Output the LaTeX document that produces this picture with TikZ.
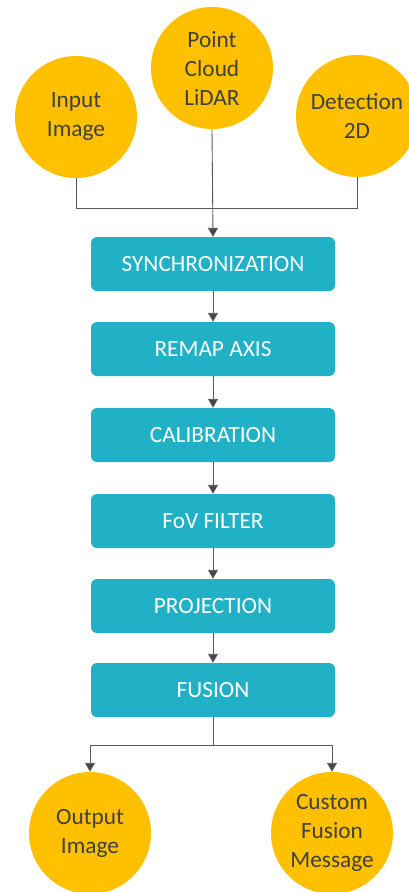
\documentclass[tikz,border=0pt]{standalone}
\usepackage{fontspec}
\setmainfont{Carlito}
\usetikzlibrary{arrows.meta}
\definecolor{gold}{HTML}{FFC000}
\definecolor{teal1}{HTML}{21B1C6}
\definecolor{txtgray}{HTML}{404040}
\definecolor{linegray}{HTML}{595959}
\begin{document}
\begin{tikzpicture}[x=1pt,y=-1pt,
  circ/.style={circle,fill=gold,minimum size=122pt,inner sep=0pt,align=center,text=txtgray,font=\fontsize{23.3}{29}\selectfont},
  stepbox/.style={rectangle,rounded corners=6pt,fill=teal1,minimum width=244pt,minimum height=54pt,inner sep=0pt,text=white,font=\fontsize{23.3}{26}\selectfont},
  conn/.style={draw=linegray,line width=0.9pt},
  arr/.style={conn,-{Triangle[width=10pt,length=9pt,fill=linegray!80!black]}}]
\useasboundingbox (0,0) rectangle (409,892);
\begin{scope}
\clip (0,0) rectangle (409,892);
\node[circ] (in) at (76,117) {Input\\Image};
\node[circ] (pc) at (212,68) {Point\\Cloud\\LiDAR};
\node[circ] (det) at (357,116) {Detection\\2D};
\node[circ] (out) at (90,833) {Output\\Image};
\node[circ] (cus) at (332,833) {Custom\\Fusion\\Message};
\end{scope}
\node[stepbox] (s1) at (213,264) {SYNCHRONIZATION};
\node[stepbox] (s2) at (213,349) {REMAP AXIS};
\node[stepbox] (s3) at (213,435) {CALIBRATION};
\node[stepbox] (s4) at (213,521) {FoV FILTER};
\node[stepbox] (s5) at (213,606) {PROJECTION};
\node[stepbox] (s6) at (213,690) {FUSION};
\coordinate (jt) at (213,208);
\coordinate (jb) at (213,745);
\draw[conn] (in.south) |- (jt);
\draw[conn] (det.south) |- (jt);
\draw[arr] (pc.south) -- (s1.north);
\draw[arr] (s1) -- (s2);
\draw[arr] (s2) -- (s3);
\draw[arr] (s3) -- (s4);
\draw[arr] (s4) -- (s5);
\draw[arr] (s5) -- (s6);
\draw[conn] (s6.south) -- (jb);
\draw[arr] (jb) -| (out.north);
\draw[arr] (jb) -| (cus.north);
\end{tikzpicture}
\end{document}
